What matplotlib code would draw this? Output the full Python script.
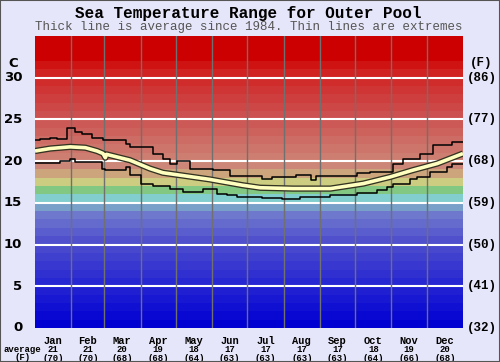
import numpy as np
import matplotlib.pyplot as plt

# month labels and monthly averages shown under the chart
months = ['Jan', 'Feb', 'Mar', 'Apr', 'May', 'Jun', 'Jul', 'Aug', 'Sep', 'Oct', 'Nov', 'Dec']
avg_c = [21, 21, 20, 19, 18, 17, 17, 17, 17, 18, 19, 20]
avg_f = [70, 70, 68, 68, 64, 63, 63, 63, 63, 64, 66, 68]
month_len = [31, 28, 31, 30, 31, 30, 31, 31, 30, 31, 30, 31]

# average line (day of year, deg C)
avg_day = [0, 13, 30, 43, 53, 58, 60, 61, 81, 98, 109, 124, 149, 177, 192,
           220, 252, 280, 303, 322, 343, 365]
avg_val = [21.2, 21.5, 21.7, 21.6, 21.2, 20.9, 20.4, 20.8, 20.1, 19.1, 18.6,
           18.3, 17.8, 17.1, 16.8, 16.7, 16.7, 17.3, 18.1, 18.9, 19.7, 20.9]

# upper extreme (step start day, deg C)
hi_day = [0, 4, 13, 19, 27, 34, 40, 49, 58, 78, 81, 101, 109, 115, 121, 132,
          152, 166, 194, 202, 223, 235, 240, 275, 286, 305, 314, 328, 339, 356]
hi_val = [22.5, 22.7, 22.8, 22.6, 23.9, 23.5, 23.2, 22.8, 22.5, 22.0, 21.7,
          20.9, 20.2, 19.7, 20.0, 19.1, 18.9, 18.2, 17.8, 18.1, 18.3, 17.7,
          18.2, 18.6, 18.7, 19.7, 20.3, 20.8, 21.9, 22.3]

# lower extreme (step start day, deg C)
lo_day = [0, 21, 30, 34, 57, 60, 78, 81, 90, 101, 115, 126, 143, 155, 164,
          172, 194, 211, 226, 252, 275, 292, 300, 305, 320, 326, 337, 351, 356]
lo_val = [19.8, 20.0, 20.2, 19.9, 19.1, 18.9, 19.3, 18.3, 17.3, 17.0, 16.7,
          16.3, 16.6, 16.1, 15.9, 15.7, 15.6, 15.5, 15.7, 15.9, 16.2, 16.5,
          16.9, 17.3, 17.9, 18.1, 18.7, 19.3, 19.7]

# band colour anchors
anc_t = [0, 5, 10, 13, 14, 15, 16, 17, 18, 19, 25, 30, 32, 35]
anc_r = [0, 40, 80, 110, 120, 130, 130, 205, 205, 205, 205, 210, 204, 204]
anc_g = [0, 40, 80, 120, 160, 205, 200, 205, 165, 135, 80, 35, 0, 0]
anc_b = [210, 210, 205, 205, 200, 205, 130, 130, 125, 120, 80, 35, 0, 0]

mono = 'Liberation Mono'
bg = '#e6e6fa'

fig = plt.figure(figsize=(5, 3.62), dpi=100, facecolor=bg)
fig.patches.append(plt.Rectangle((0, 0), 1, 1, transform=fig.transFigure,
                                 fill=False, edgecolor='#555555', lw=1.5))
ax = fig.add_axes([0.07, 0.094, 0.856, 0.807])

for t in range(35):
    c = (np.interp(t, anc_t, anc_r) / 255, np.interp(t, anc_t, anc_g) / 255,
         np.interp(t, anc_t, anc_b) / 255)
    ax.axhspan(t, t + 1, color=c, lw=0)

for t in range(5, 35, 5):
    ax.axhline(t, color='white', lw=1.5)

edges = np.cumsum(month_len)
for e in edges[:-1]:
    ax.axvline(e, color='#707070', lw=1)

ax.step(lo_day + [365], lo_val + [lo_val[-1]], where='post', color='black', lw=1.1)
ax.step(hi_day + [365], hi_val + [hi_val[-1]], where='post', color='black', lw=1.1)
ax.plot(avg_day, avg_val, color='#333322', lw=4.5, solid_capstyle='butt')
ax.plot(avg_day, avg_val, color='#ffffc0', lw=2.6, solid_capstyle='butt')

ax.set_xlim(0, 365)
ax.set_ylim(0, 35)
ax.set_xticks([])
ax.set_yticks([])
for s in ax.spines.values():
    s.set_visible(False)

tr = ax.get_yaxis_transform()
for t in range(0, 35, 5):
    ax.text(-0.03, t, str(t), transform=tr, ha='right', va='center',
            fontsize=9.5, fontweight='bold', family='DejaVu Sans')
    ax.text(1.01, t, '(%d)' % round(t * 9 / 5 + 32), transform=tr, ha='left',
            va='center', fontsize=9, fontweight='bold', family=mono)
ax.text(-0.04, 31.7, 'C', transform=tr, ha='right', va='center',
        fontsize=9.5, fontweight='bold', family='DejaVu Sans')
ax.text(1.042, 31.7, '(F)', transform=tr, ha='center', va='center',
        fontsize=9, fontweight='bold', family=mono)

centers = edges - np.array(month_len) / 2
trx = ax.get_xaxis_transform()
for m, cx in enumerate(centers):
    ax.text(cx, -0.045, months[m], transform=trx, ha='center', va='center',
            fontsize=7.5, fontweight='bold', family=mono)
    ax.text(cx, -0.075, str(avg_c[m]), transform=trx, ha='center', va='center',
            fontsize=6.5, fontweight='bold', family=mono)
    ax.text(cx, -0.103, '(%d)' % avg_f[m], transform=trx, ha='center',
            va='center', fontsize=6.5, fontweight='bold', family=mono)
fig.text(0.045, 0.034, 'average', ha='center', va='center',
         fontsize=6.5, fontweight='bold', family=mono)
fig.text(0.046, 0.012, '(F)', ha='center', va='center', fontsize=6.5,
         fontweight='bold', family=mono)

fig.text(0.497, 0.964, 'Sea Temperature Range for Outer Pool', ha='center',
         va='center', fontsize=11.5, fontweight='bold', family=mono)
fig.text(0.497, 0.925, 'Thick line is average since 1984. Thin lines are extremes',
         ha='center', va='center', fontsize=9, color='#555555', family=mono)

fig.savefig('out.png', dpi=100, facecolor=bg)
